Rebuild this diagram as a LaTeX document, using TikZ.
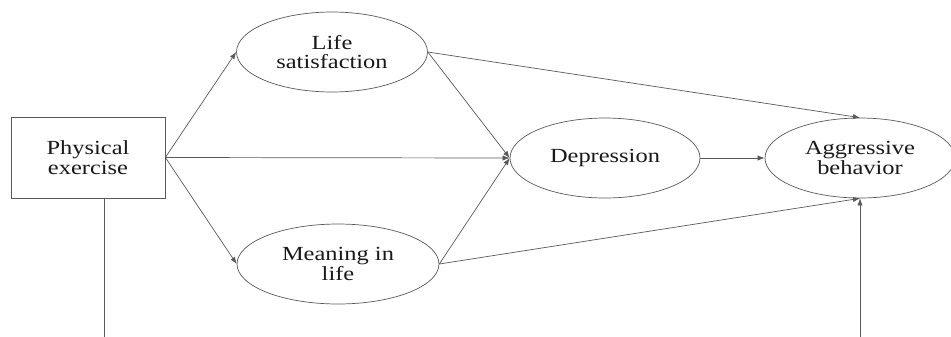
\documentclass[tikz,border=0pt]{standalone}
\usepackage{fontspec}
\setmainfont{Liberation Serif}[FakeStretch=1.22]
\usetikzlibrary{shapes.geometric,arrows.meta}
\begin{document}
\begin{tikzpicture}[x=0.02cm,y=-0.02cm,thin,draw=black!65,
        >={Latex[length=4pt,width=3pt]},
        every node/.style={font=\fontsize{11.4}{11}\selectfont,align=center,draw=black!65,text=black!90},
        main node/.style={ellipse,inner sep=0pt,minimum height=1.6cm},
        box node/.style={rectangle,minimum width=3.08cm,minimum height=1.62cm}]
                \useasboundingbox (0,0) rectangle (951,336);
                \node[box node] at (88, 157.5) (pe) {Physical\\exercise};
                \node[main node,minimum width=3.82cm] at (332, 52) (ls) {Life\\satisfaction};
                \node[main node,minimum width=4.04cm] at (338, 264) (ml) {Meaning in\\life};
                \node[main node,minimum width=3.8cm] at (605, 158) (dep) {Depression};
                \node[main node,minimum width=3.8cm] at (860, 158) (ab) {Aggressive\\behavior};
                \coordinate (l) at (104, 340);
                \coordinate (r) at (860, 340);

                \path[->,draw=black!65]
                    (pe.east) edge (ls.west)
                    (pe.east) edge (ml.west)
                    (pe.east) edge (dep.west)
                    (ls.east) edge (dep.west)
                    (ml.east) edge (dep.west)
                    (ls.east) edge (ab.north)
                    (ml.east) edge (ab.south)
                    (dep.east) edge (ab.west)
                    (r) edge (ab.south)
                    ;
                \draw[black!65] (pe.south -| l) -- (l);
            \end{tikzpicture}
\end{document}
